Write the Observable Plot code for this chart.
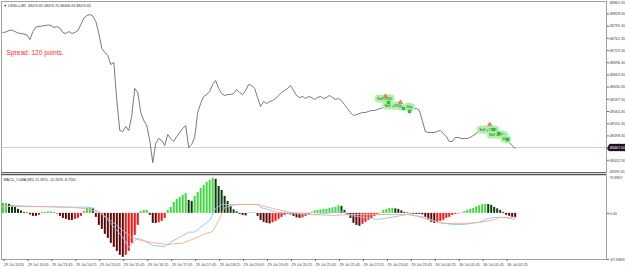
<!DOCTYPE html>
<html><head><meta charset="utf-8">
<script src="https://cdn.jsdelivr.net/npm/d3@7"></script>
<script src="https://cdn.jsdelivr.net/npm/@observablehq/plot@0.6"></script>
<style>
html,body{margin:0;padding:0;background:#fff;}
#chart{width:625px;height:269px;overflow:hidden;}
#chart svg{display:block;}
</style></head><body><div id="chart"></div>
<script>
const symbolHeader = "\u25BC US30.a,M5  48470.65 48476.70 48468.43 48470.65";
const spreadText = "Spread: 120 points.";
const macdHeader = "MACD_OsMA (M5) 11.3915 -11.3376 -8.7261";

const prices = [
48778.0,48779.4,48783.4,48784.8,48780.7,48776.6,48775.3,48773.9,48771.2,48759.1,
48780.7,48792.9,48794.2,48795.6,48797.0,48798.3,48797.0,48791.5,48794.2,48790.2,
48778.0,48775.3,48780.7,48775.3,48778.0,48783.4,48799.7,48817.2,48824.0,48826.7,
48822.6,48807.7,48775.3,48734.7,48723.9,48715.8,48691.4,48696.9,48594.1,48512.9,
48510.2,48523.7,48512.9,48553.5,48626.6,48615.7,48561.6,48540.0,48526.5,48485.9,
48426.4,48477.8,48491.3,48485.9,48472.4,48502.1,48491.3,48483.2,48496.7,48507.5,
48518.4,48526.5,48467.0,48475.1,48494.0,48561.6,48586.0,48604.9,48610.3,48618.4,
48637.4,48648.2,48626.6,48613.0,48607.6,48610.3,48610.3,48613.0,48623.9,48615.7,
48610.3,48621.1,48637.4,48634.7,48626.6,48602.2,48577.9,48591.4,48586.0,48591.4,
48594.1,48599.5,48607.6,48615.7,48621.1,48626.6,48634.7,48621.1,48607.6,48602.2,
48604.9,48599.5,48604.9,48602.2,48596.8,48602.2,48604.9,48599.5,48602.2,48607.6,
48602.2,48596.8,48599.5,48594.1,48583.3,48572.5,48561.6,48553.5,48556.2,48558.9,
48561.6,48561.6,48564.3,48567.0,48567.0,48569.8,48572.5,48575.2,48575.2,48577.9,
48575.2,48575.2,48572.5,48572.5,48572.5,48569.8,48572.5,48572.5,48572.5,48567.0,
48540.0,48510.2,48507.5,48507.5,48507.5,48510.2,48512.9,48504.8,48496.7,48483.2,
48483.2,48494.0,48494.0,48491.3,48491.3,48491.3,48494.0,48499.4,48504.8,48510.2,
48512.9,48512.9,48512.9,48512.9,48510.2,48504.8,48499.4,48494.0,48488.6,48480.5,
48472.4,48464.3
];

const osma = [
19,19,17.1,14.3,11.4,7.6,4.8,1.9,1.0,-2.9,
-5.7,-5.7,-3.8,1.9,1.9,2.9,2.9,1.0,-1.0,-5.7,
-9.5,-11.4,-13.3,-13.4,-11.4,-9.5,-5.7,3.8,9.5,10.5,
9.5,-7.6,-22.8,-30.4,-39.9,-47.5,-57,-64.6,-72.2,-79.8,
-83.6,-79.8,-72.2,-57,-41.8,-22.8,3.8,5.7,5.7,-3.8,
-19,-19.2,-18,-15.2,-9.5,5.7,11.4,20.9,26.6,30.4,
34.2,38,24.7,22.8,32.3,39.9,47.5,53.2,58.9,62.7,
66.5,64.6,51.3,43.7,32.3,22.8,13.3,6.7,2.9,-1.9,
-3.8,-4.8,1,1,1,-5.7,-13.3,-17.1,-19,-20,
-18,-15.2,-11.4,-7.6,-3.8,-1.9,-2.9,-5.7,-8.6,-9.5,
-8.6,-5.7,-2.9,1.9,4.8,5.7,6.7,7.6,7.8,9.5,
10.5,11.4,14.3,13.3,5.7,-3.8,-9.5,-19,-22.8,-24.7,
-20.9,-17.1,-13.3,-9.5,-5.7,-1.9,1,5.7,7.6,9.5,
9.7,8.6,7.6,4.8,1.9,1,-1,-1.9,-1.9,-1.9,
-2.9,-7.6,-13.3,-17.1,-19,-17.1,-15.2,-13.3,-9.5,-7.6,
-3.8,-1.9,-1,1,2.9,5.7,7.6,9.5,12.4,14.3,
16.2,17.1,16.9,15.2,11.4,8.6,5.7,1.9,-3.8,-5.7,
-7.6,-8.6
];

const macdIdx = [0,3,11,22,29,33,36,40,42,44,45,47,50,54,56,59,62,64,66,69,71,73,81,85,86,92,97,103,108,113,116,123,125,130,135,141,145,150,154,159,162,165,169,171];
const macdVal = [11.2,15.0,13.1,11.8,11.8,-0.2,-19.1,-45.2,-64.8,-51.5,-47.7,-51.5,-61.0,-62.9,-54.7,-45.2,-35.7,-35.7,-26.2,-13.5,9.3,16.9,16.9,16.9,11.2,1.7,-0.2,-2.1,-0.2,4.2,-4.0,-9.7,-11.6,-7.2,-2.1,-7.2,-16.7,-21.1,-21.1,-16.7,-9.7,-7.2,-9.1,-11.6];
const signalIdx = [0,11,22,27,32,36,40,43,46,51,55,60,64,67,70,72,74,78,85,90,96,103,110,116,123,130,136,143,147,154,159,163,166,171];
const signalVal = [13.1,13.1,11.8,9.3,2.3,-13.5,-32.5,-45.2,-51.5,-56.6,-59.1,-56.6,-47.7,-40.1,-34.4,-13.5,11.2,16.9,16.9,9.3,1.7,-2.1,-4.0,-2.1,-2.1,-2.1,-2.1,-13.5,-19.2,-19.2,-17.3,-13.5,-7.8,-7.2];

const priceTicks = [48399.3,48432.3,48465.3,48498.3,48531.3,48564.3,48597.3,48630.3,48663.3,48696.3,48729.3,48762.3,48795.3,48828.3];
const priceTop = 48861.9;
const currentPrice = 48467.0;
const macdTop = 73.8867;
const macdBottom = -87.6883;
const macdTicks = [0, -87.6883];

const timeIdx = [0,8,16,24,32,40,48,56,64,72,80,88,96,104,112,120,128,136,144,152,160,168];
const timeLabels = ["29 Jul 2024","29 Jul 13:05","29 Jul 13:45","29 Jul 14:25","29 Jul 15:05","29 Jul 15:45","29 Jul 16:25","29 Jul 17:05","29 Jul 17:45","29 Jul 18:25","29 Jul 19:05","29 Jul 19:45","29 Jul 20:25","29 Jul 21:05","29 Jul 21:45","29 Jul 22:25","29 Jul 23:05","29 Jul 23:45","30 Jul 00:25","30 Jul 01:05","30 Jul 01:45","30 Jul 02:25"];

const tradeIdx = [127.4,130.2,135.7,161.9,165.1,167.8];
const tradePrice = [48598.2,48579.2,48577.9,48514.3,48500.8,48490.0];
const tradeLabel = ["Sell 1950","Sell +195p","60p","Sell +1950","Sell +195p","60p"];
const openIdx = [127.7,132.7,162.5];
const openPrice = [48604.9,48588.7,48529.1];
const closeIdx = [128.7,133.7,135.7,163.8,165.5,168.5];
const closePrice = [48588.7,48572.5,48564.3,48515.6,48504.8,48488.6];

const font = "'Liberation Sans', Arial, sans-serif";
const xDom = [-0.5, 201.5];

const priceData = prices.map((p, i) => ({i, p}));
const trades = tradeIdx.map((x, k) => ({x, y: tradePrice[k], t: tradeLabel[k]}));
const opens = openIdx.map((x, k) => ({x, y: openPrice[k]}));
const closes = closeIdx.map((x, k) => ({x, y: closePrice[k]}));

const main = Plot.plot({
  width: 625, height: 173,
  marginLeft: 1, marginRight: 19, marginTop: 1, marginBottom: 1,
  x: {domain: xDom, axis: null, label: null},
  y: {domain: [priceTicks[0], priceTop], axis: null, label: null},
  style: {fontFamily: font, background: "#fff", overflow: "visible"},
  marks: [
    Plot.ruleY([currentPrice], {stroke: "#cfcfcf", strokeWidth: 1}),
    Plot.line(priceData, {x: "i", y: "p", stroke: "#585858", strokeWidth: 0.8}),
    Plot.text(trades, {x: "x", y: "y", text: "t", fontSize: 3.6, fill: "#2a4a2a",
      stroke: "#aef2a8", strokeWidth: 5, paintOrder: "stroke"}),
    Plot.dot(opens, {x: "x", y: "y", symbol: "triangle", r: 1.7, fill: "#f0805a", stroke: "#d05030", strokeWidth: 0.4}),
    Plot.dot(closes, {x: "x", y: "y", symbol: "square", r: 1.6, fill: "#2ed12e", stroke: "#118811", strokeWidth: 0.4}),
    Plot.frame({stroke: "#a0a0a0", strokeWidth: 1}),
    Plot.axisY(priceTicks.slice(1), {anchor: "right", label: null, tickSize: 2, tickPadding: 1, fontSize: 3.8,
      tickFormat: d => d.toFixed(2), stroke: "#666", fill: "#444"}),
    Plot.tickY([priceTicks[0]], {frameAnchor: "right", stroke: "#666"}),
    Plot.text([priceTicks[0]], {y: d => d, frameAnchor: "right", dx: 3, dy: -0.5, textAnchor: "start",
      text: d => d.toFixed(2), fontSize: 3.6, fill: "#444"}),
    Plot.text([priceTop], {y: d => d, frameAnchor: "right", dx: 3, dy: 1.5, textAnchor: "start",
      text: d => d.toFixed(2), fontSize: 3.8, fill: "#444"}),
    Plot.text([currentPrice], {y: d => d, frameAnchor: "right", dx: 3, textAnchor: "start",
      text: d => d.toFixed(2), fontSize: 3.8, fill: "#fff", stroke: "#1c1020", strokeWidth: 4.5, paintOrder: "stroke"}),
    Plot.text([symbolHeader], {frameAnchor: "top-left", dx: 2, dy: 3, text: d => d, fontSize: 3.6, fill: "#333"}),
    Plot.text([spreadText], {frameAnchor: "top-left", dx: 5, dy: 49, text: d => d, fontSize: 6.6, fill: "#ff3030"})
  ]
});

const bars = osma.map((v, i) => {
  const prev = i > 0 ? osma[i - 1] : v;
  let c;
  if (v >= 0) c = v >= prev ? "#44d444" : "#0d3a0d";
  else c = v <= prev ? "#5a0808" : "#ff1414";
  return {i, v, c};
});
const macdLine = macdIdx.map((i, k) => ({i, v: macdVal[k]}));
const signalLine = signalIdx.map((i, k) => ({i, v: signalVal[k]}));
const labelMap = new Map(timeIdx.map((d, k) => [d, timeLabels[k]]));

const osc = Plot.plot({
  width: 625, height: 96,
  marginLeft: 1, marginRight: 19, marginTop: 1, marginBottom: 10,
  x: {domain: xDom, axis: null, label: null},
  y: {domain: [macdBottom, macdTop], axis: null, label: null},
  color: {type: "identity"},
  style: {fontFamily: font, background: "#fff", overflow: "visible"},
  marks: [
    Plot.ruleX(bars, {x: "i", y1: 0, y2: "v", stroke: "c", strokeWidth: 2}),
    Plot.line(macdLine, {x: "i", y: "v", stroke: "#8cc2ff", strokeWidth: 0.9}),
    Plot.line(signalLine, {x: "i", y: "v", stroke: "#f4ae88", strokeWidth: 0.9}),
    Plot.frame({stroke: "#a0a0a0", strokeWidth: 1}),
    Plot.ruleY([macdTop], {stroke: "#555", strokeWidth: 1.5}),
    Plot.axisY(macdTicks, {anchor: "right", label: null, tickSize: 2, tickPadding: 1, fontSize: 3.8,
      tickFormat: d => d === 0 ? "0.00" : d.toFixed(4), stroke: "#666", fill: "#444"}),
    Plot.text([macdTop], {y: d => d, frameAnchor: "right", dx: 3, dy: 3, textAnchor: "start",
      text: d => d.toFixed(4), fontSize: 3.6, fill: "#444"}),
    Plot.axisX(timeIdx, {anchor: "bottom", label: null, tickSize: 2, tickPadding: 2, fontSize: 3.8,
      tickFormat: d => labelMap.get(d), textAnchor: "start", dx: 1, stroke: "#666", fill: "#444"}),
    Plot.text([macdHeader], {frameAnchor: "top-left", dx: 2, dy: 4, text: d => d, fontSize: 3.6, fill: "#333"})
  ]
});

const root = document.getElementById("chart");
root.appendChild(main);
root.appendChild(osc);
</script>
</body></html>
